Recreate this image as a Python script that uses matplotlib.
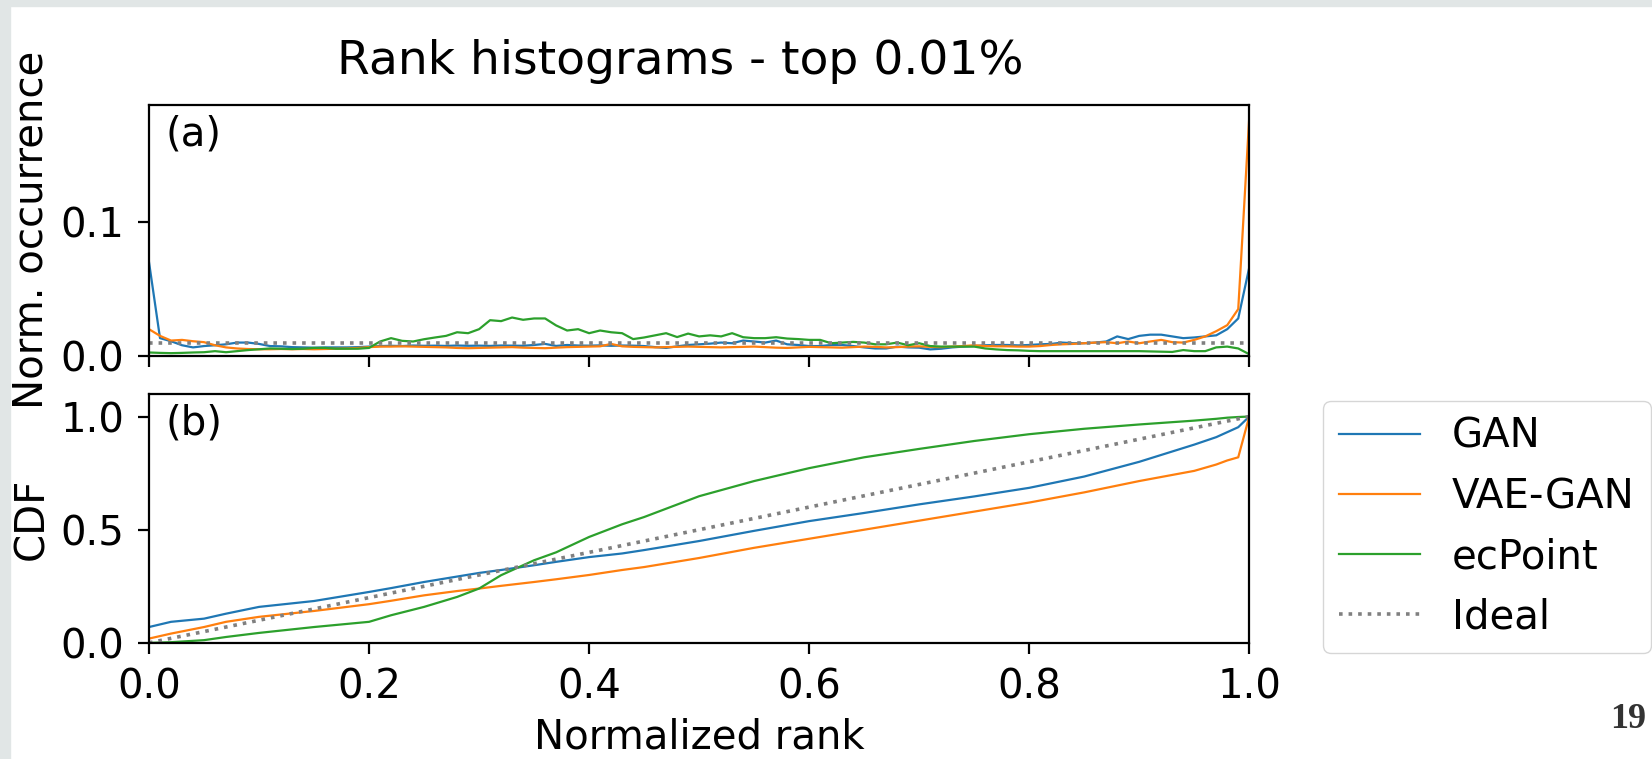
import numpy as np
import matplotlib.pyplot as plt
from matplotlib.patches import Rectangle

# rank histogram, 101 bins over normalized rank
rank = np.linspace(0, 1, 101)

gan_hist = [
    0.070, 0.0133, 0.011, 0.008, 0.0064, 0.0074, 0.008, 0.0087, 0.010, 0.010,
    0.009, 0.0074, 0.0072, 0.0066, 0.0064, 0.0062, 0.0064, 0.0064, 0.0064, 0.0066,
    0.007, 0.0074, 0.0076, 0.0074, 0.0078, 0.0076, 0.0077, 0.0075, 0.0078, 0.0076,
    0.0077, 0.0075, 0.0078, 0.0077, 0.0076, 0.0082, 0.009, 0.0075, 0.0082, 0.0078,
    0.0077, 0.0079, 0.0076, 0.0078, 0.0077, 0.0074, 0.0066, 0.006, 0.0072, 0.0082,
    0.0087, 0.0092, 0.010, 0.0095, 0.0115, 0.0108, 0.010, 0.0115, 0.0087, 0.0082,
    0.0074, 0.0074, 0.0082, 0.0082, 0.0074, 0.0064, 0.0056, 0.0056, 0.007, 0.0064,
    0.0062, 0.0049, 0.0054, 0.0064, 0.007, 0.0074, 0.008, 0.0082, 0.0082, 0.0079,
    0.0082, 0.0087, 0.009, 0.010, 0.0095, 0.0095, 0.010, 0.0108, 0.0146, 0.0126,
    0.015, 0.0159, 0.0159, 0.0146, 0.0133, 0.0138, 0.0146, 0.0154, 0.020, 0.028,
    0.066]

vaegan_hist = [
    0.020, 0.015, 0.0115, 0.012, 0.011, 0.0103, 0.008, 0.0064, 0.0056, 0.0052,
    0.005, 0.005, 0.0052, 0.005, 0.0052, 0.005, 0.0052, 0.0054, 0.0056, 0.006,
    0.0066, 0.007, 0.007, 0.0072, 0.007, 0.0068, 0.0066, 0.0064, 0.006, 0.0058,
    0.006, 0.0062, 0.0064, 0.0066, 0.0062, 0.006, 0.0058, 0.0062, 0.0066, 0.0068,
    0.007, 0.0072, 0.009, 0.0072, 0.0068, 0.0066, 0.0064, 0.0066, 0.0068, 0.007,
    0.0068, 0.0066, 0.0064, 0.0066, 0.0068, 0.007, 0.0066, 0.0062, 0.006, 0.0064,
    0.0068, 0.0066, 0.0064, 0.0062, 0.0066, 0.007, 0.0068, 0.0064, 0.0066, 0.007,
    0.0072, 0.0068, 0.0066, 0.007, 0.0074, 0.008, 0.0074, 0.0072, 0.0072, 0.007,
    0.007, 0.0074, 0.0082, 0.0087, 0.009, 0.0095, 0.010, 0.0103, 0.0095, 0.0108,
    0.0095, 0.0108, 0.012, 0.0103, 0.010, 0.012, 0.0146, 0.0185, 0.023, 0.035,
    0.178]

ecpoint_hist = [
    0.0026, 0.0023, 0.0021, 0.0023, 0.0026, 0.0028, 0.0036, 0.0028, 0.0036, 0.0044,
    0.005, 0.0056, 0.0054, 0.0052, 0.0054, 0.006, 0.006, 0.0054, 0.0054, 0.0054,
    0.006, 0.0108, 0.0133, 0.0113, 0.0108, 0.0125, 0.0138, 0.015, 0.0177, 0.017,
    0.020, 0.0267, 0.026, 0.0287, 0.027, 0.028, 0.028, 0.0228, 0.019, 0.020,
    0.017, 0.019, 0.0177, 0.017, 0.0126, 0.0138, 0.0154, 0.017, 0.0141, 0.0167,
    0.0146, 0.0154, 0.0146, 0.017, 0.014, 0.0133, 0.0133, 0.014, 0.013, 0.0126,
    0.012, 0.012, 0.0095, 0.010, 0.0105, 0.010, 0.0087, 0.0087, 0.010, 0.008,
    0.0095, 0.0074, 0.007, 0.007, 0.007, 0.007, 0.0056, 0.0049, 0.0044, 0.0042,
    0.0038, 0.0036, 0.0036, 0.0036, 0.0036, 0.0036, 0.0036, 0.0036, 0.0036, 0.0036,
    0.0036, 0.0034, 0.0032, 0.003, 0.0044, 0.0036, 0.0036, 0.0064, 0.007, 0.0056,
    0.0013]

ideal_level = 0.01

# CDF
cdf_rank = [0.0, 0.02, 0.05, 0.07, 0.1, 0.15, 0.2, 0.22, 0.25, 0.28, 0.3, 0.32,
            0.35, 0.37, 0.4, 0.43, 0.45, 0.5, 0.55, 0.6, 0.65, 0.7, 0.75, 0.8,
            0.85, 0.9, 0.95, 0.97, 0.98, 0.99, 1.0]
gan_cdf = [0.07, 0.093, 0.107, 0.129, 0.159, 0.185, 0.225, 0.242, 0.269, 0.293,
           0.309, 0.322, 0.343, 0.358, 0.379, 0.395, 0.41, 0.45, 0.495, 0.538,
           0.574, 0.612, 0.647, 0.685, 0.735, 0.8, 0.876, 0.909, 0.931, 0.953,
           1.0]
vaegan_cdf = [0.019, 0.041, 0.07, 0.093, 0.115, 0.141, 0.171, 0.186, 0.21, 0.229,
              0.24, 0.252, 0.269, 0.281, 0.30, 0.322, 0.335, 0.375, 0.42, 0.46,
              0.5, 0.54, 0.58, 0.62, 0.665, 0.715, 0.76, 0.788, 0.806, 0.82,
              1.0]
ecpoint_cdf = [0.0, 0.003, 0.012, 0.026, 0.044, 0.07, 0.093, 0.122, 0.159, 0.203,
               0.24, 0.299, 0.365, 0.40, 0.468, 0.524, 0.556, 0.648, 0.715, 0.772,
               0.82, 0.857, 0.892, 0.922, 0.946, 0.965, 0.982, 0.99, 0.995, 0.998,
               1.0]
ideal_rank = [0.0, 1.0]
ideal_cdf = [0.0, 1.0]

labels = ["GAN", "VAE-GAN", "ecPoint", "Ideal"]
colors = ["tab:blue", "tab:orange", "tab:green", "gray"]

plt.rcParams['font.size'] = 29
plt.rcParams['axes.linewidth'] = 1.6

fig = plt.figure(figsize=(16.52, 7.59), dpi=100)
fig.patches.append(Rectangle((0, 1 - 6 / 759), 1, 6 / 759, transform=fig.transFigure,
                             color='#e1e6e6', zorder=0))
fig.patches.append(Rectangle((0, 0), 10 / 1652, 1, transform=fig.transFigure,
                             color='#e1e6e6', zorder=0))

ax1 = fig.add_axes([0.0902, 0.531, 0.666, 0.331])
ax2 = fig.add_axes([0.0902, 0.153, 0.666, 0.328], sharex=ax1)

for vals, c, lab in zip([gan_hist, vaegan_hist, ecpoint_hist], colors, labels):
    ax1.plot(rank, vals, color=c, lw=1.6, label=lab)
ax1.plot(rank, np.full(len(rank), ideal_level), color='gray', ls=':', lw=2.6, label='Ideal')
ax1.set_xlim(0, 1)
ax1.set_ylim(0, 0.1875)
ax1.set_yticks([0.0, 0.1])
ax1.set_ylabel("Norm. occurrence", labelpad=6)
ax1.set_title("Rank histograms - top 0.01%", fontsize=34, pad=22, x=0.483)
ax1.text(0.015, 0.96, "(a)", transform=ax1.transAxes, va='top', ha='left')
ax1.tick_params(labelbottom=False)

for vals, c, lab in zip([gan_cdf, vaegan_cdf, ecpoint_cdf], colors, labels):
    ax2.plot(cdf_rank, vals, color=c, lw=1.6, label=lab)
ax2.plot(ideal_rank, ideal_cdf, color='gray', ls=':', lw=2.6, label='Ideal')
ax2.set_ylim(0, 1.1)
ax2.set_yticks([0.0, 0.5, 1.0])
ax2.set_xticks([0.0, 0.2, 0.4, 0.6, 0.8, 1.0])
ax2.set_ylabel("CDF", labelpad=6)
ax2.set_xlabel("Normalized rank", labelpad=7)
ax2.text(0.015, 0.96, "(b)", transform=ax2.transAxes, va='top', ha='left')

for ax in (ax1, ax2):
    ax.tick_params(direction='out', length=8, width=1.6, pad=10)

fig.legend(*ax2.get_legend_handles_labels(), loc='upper left',
           bbox_to_anchor=(0.801, 0.472), borderaxespad=0)

fig.text(0.9855, 0.052, "19", fontsize=26, fontweight='bold', color='#333333',
         family='Liberation Serif', ha='center', va='center')

fig.savefig("out.png", dpi=100)
